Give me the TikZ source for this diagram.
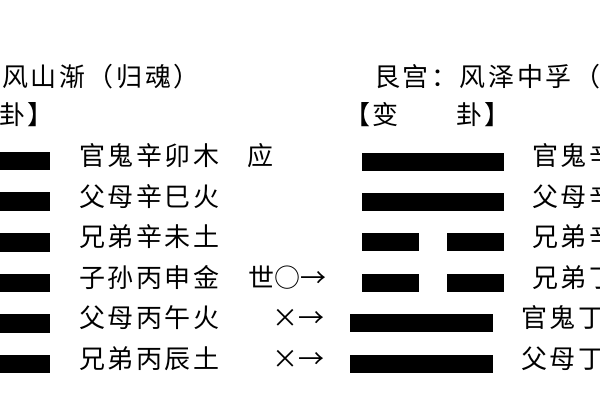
\documentclass[tikz,border=0pt]{standalone}
\usepackage{fontspec}
\setmainfont[LetterSpace=10]{Noto Sans CJK SC}
\newfontfamily\plainfont{Noto Sans CJK SC}
\begin{document}
\begin{tikzpicture}[x=1pt,y=-1pt,
  txt/.style={anchor=base west,inner sep=0pt,font=\fontsize{26}{26}\selectfont},
  txte/.style={anchor=base east,inner sep=0pt,font=\fontsize{26}{26}\selectfont},
  marktxt/.style={anchor=base west,inner sep=0pt,font=\plainfont\fontsize{26}{26}\selectfont},
  bar/.style={fill=black,draw=none}]
\useasboundingbox (0,0) rectangle (600,400);
\fill[white] (0,0) rectangle (600,400);
% titles
\node[txt] (t1) at (2,86) {风山渐（归魂）};
\node[txt] (t2) at (374,86) {艮宫：风泽中孚（};
\node[txt] (h1) at (-1,124) {卦】};
\node[txte] (h2a) at (399,124) {【变};
\node[txt] (h2b) at (456,124) {卦】};
% left bars (all yang)
\foreach \i in {0,...,5}{
  \fill[bar] (-5,{151.7+40.6*\i}) rectangle (50,{170.4+40.6*\i});
}
% right bars
\fill[bar] (361.7,152.5) rectangle (504,170.5);
\fill[bar] (361.7,192.9) rectangle (504,210.9);
\fill[bar] (361.7,233.3) rectangle (419,251.3);
\fill[bar] (446.7,233.3) rectangle (504,251.3);
\fill[bar] (361.7,273.7) rectangle (419,291.7);
\fill[bar] (446.7,273.7) rectangle (504,291.7);
\fill[bar] (350,314.1) rectangle (492.7,332.1);
\fill[bar] (350,354.5) rectangle (492.7,372.5);
% left texts
\node[txt] (l1) at (79,165.5) {官鬼辛卯木};
\node[txt] (l2) at (79,206.1) {父母辛巳火};
\node[txt] (l3) at (79,246.7) {兄弟辛未土};
\node[txt] (l4) at (79,287.3) {子孙丙申金};
\node[txt] (l5) at (79,327.9) {父母丙午火};
\node[txt] (l6) at (79,368.5) {兄弟丙辰土};
% middle marks
\node[marktxt] (m1) at (247,165.5) {应};
\node[marktxt] (m4) at (248,287.3) {世○→};
\node[marktxt] (m5) at (272,327.9) {×→};
\node[marktxt] (m6) at (272,368.5) {×→};
% right texts
\node[txt] (r1) at (532,165.5) {官鬼辛};
\node[txt] (r2) at (532,206.1) {父母辛};
\node[txt] (r3) at (532,246.7) {兄弟辛};
\node[txt] (r4) at (532,287.3) {兄弟丁};
\node[txt] (r5) at (521,327.9) {官鬼丁};
\node[txt] (r6) at (521,368.5) {父母丁};
\end{tikzpicture}
\end{document}
